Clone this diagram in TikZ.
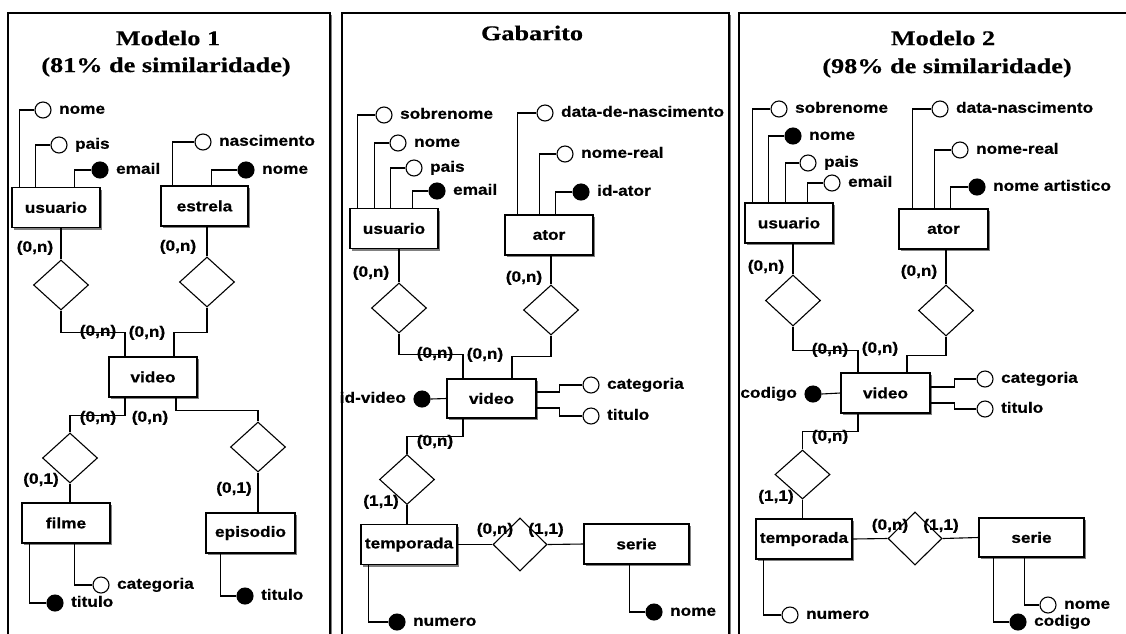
\documentclass[tikz,border=0pt]{standalone}
\usepackage{fontspec}
\newfontfamily\lblfont{Liberation Sans Bold}[FakeStretch=1.15,FakeBold=0.6]
\newfontfamily\ttlfont{Liberation Serif Bold}[FakeStretch=1.25,FakeBold=0.5]
\usetikzlibrary{shapes.geometric,shadows}
\begin{document}
\begin{tikzpicture}[x=1pt,y=-1pt,
  line width=1.1pt,
  every node/.style={font=\lblfont\fontsize{15}{17}\selectfont},
  ent/.style={draw, fill=white, minimum height=40pt, inner sep=0pt,
    general shadow={shadow xshift=2pt,shadow yshift=-2pt,fill=gray}},
  rel/.style={diamond, draw, fill=white, minimum width=55pt, minimum height=50pt, inner sep=0pt},
  att/.style={circle, draw, fill=white, minimum size=16pt, inner sep=0pt},
  key/.style={att, fill=black},
  lbl/.style={inner sep=0pt, text height=10.5pt, text depth=3pt},
  card/.style={lbl},
  la/.style={label={[lbl,label distance=7pt]right:#1}},
  ll/.style={label={[lbl,label distance=7pt]left:#1}},
  ttl/.style={font=\ttlfont\fontsize{21}{24}\selectfont, inner sep=0pt},
]
\clip (0,0) rectangle (1126,633);
\useasboundingbox (0,0) rectangle (1126,633);
\fill[white] (0,0) rectangle (1126,633);
% frames
\fill[gray] (10,15) rectangle (332,650);
\draw[fill=white] (8,13) rectangle (330,650);
\fill[gray] (344,15) rectangle (731,650);
\draw[fill=white] (342,13) rectangle (729,650);
\fill[gray] (741,15) rectangle (1145,650);
\draw[fill=white] (739,13) rectangle (1140,650);

%%%%%%%%%%%%%%%% Panel 1
\node[ttl] (t1a) at (168,38) {Modelo 1};
\node[ttl] (t1b) at (166,67) {(81\% de similaridade)};

\node[ent,minimum width=88pt] (u1) at (56,207.5) {usuario};
\node[att,la=nome] (u1n) at (43,110) {};
\node[att,la=pais] (u1p) at (59,145) {};
\node[key,la=email] (u1e) at (100,170) {};
\draw ([xshift=8pt]u1.north west) |- (u1n.west);
\draw ([xshift=24pt]u1.north west) |- (u1p.west);
\draw ([xshift=63pt]u1.north west) |- (u1e.west);

\node[ent,minimum width=87pt] (e1) at (204.5,206) {estrela};
\node[att,la=nascimento] (e1n) at (203,142) {};
\node[key,la=nome] (e1k) at (246,170) {};
\draw ([xshift=12pt]e1.north west) |- (e1n.west);
\draw ([xshift=51pt]e1.north west) |- (e1k.west);

\node[rel] (r1a) at (61,285) {};
\node[rel] (r1b) at (207,282) {};
\draw (r1a.north) -- (r1a.north |- u1.south);
\draw (r1b.north) -- (r1b.north |- e1.south);
\node[card] (c1a) at (35,248) {(0,n)};
\node[card] (c1b) at (178,247) {(0,n)};

\node[ent,minimum width=88pt] (v1) at (153,377) {video};
\draw (r1a.south) -- ++(0,22) -| ([xshift=-28pt]v1.north);
\draw (r1b.south) -- ++(0,25) -| ([xshift=21pt]v1.north);
\node[card] (c1c) at (98,332) {(0,n)};
\node[card] (c1d) at (147,333) {(0,n)};

\node[rel] (r1c) at (70,458) {};
\node[rel] (r1d) at (258,447) {};
\draw ([xshift=-28pt]v1.south) -- ++(0,18) -| (r1c.north);
\draw ([xshift=23pt]v1.south) -- ++(0,13) -| (r1d.north);
\node[card] (c1e) at (98,418) {(0,n)};
\node[card] (c1f) at (150,418) {(0,n)};

\node[ent,minimum width=88pt] (f1) at (66,523) {filme};
\node[ent,minimum width=89pt] (ep1) at (250.5,533) {episodio};
\draw (r1c.south) -- (r1c.south |- f1.north);
\draw (r1d.south) -- (r1d.south |- ep1.north);
\node[card] (c1g) at (41,480) {(0,1)};
\node[card] (c1h) at (234,489) {(0,1)};
\node[key,la=titulo] (f1t) at (55,603) {};
\node[att,la=categoria] (f1c) at (101,585) {};
\draw ([xshift=8pt]f1.south west) |- (f1t.west);
\draw ([xshift=53pt]f1.south west) |- (f1c.west);
\node[key,la=titulo] (ep1t) at (245,596) {};
\draw ([xshift=15pt]ep1.south west) |- (ep1t.west);

%%%%%%%%%%%%%%%% Panel 2
\node[ttl] (t2) at (532,33) {Gabarito};

\node[ent,minimum width=88pt] (u2) at (394,228.5) {usuario};
\node[att,la=sobrenome] (u2s) at (384,115) {};
\node[att,la=nome] (u2n) at (398,143) {};
\node[att,la=pais] (u2p) at (414,168) {};
\node[key,la=email] (u2e) at (437,191) {};
\draw ([xshift=8pt]u2.north west) |- (u2s.west);
\draw ([xshift=25pt]u2.north west) |- (u2n.west);
\draw ([xshift=41pt]u2.north west) |- (u2p.west);
\draw ([xshift=63pt]u2.north west) |- (u2e.west);

\node[ent,minimum width=88pt] (a2) at (549,235) {ator};
\node[att,la=data-de-nascimento] (a2d) at (545,113) {};
\node[att,la=nome-real] (a2n) at (565,154) {};
\node[key,la=id-ator] (a2k) at (581,192) {};
\draw ([xshift=13pt]a2.north west) |- (a2d.west);
\draw ([xshift=35pt]a2.north west) |- (a2n.west);
\draw ([xshift=51pt]a2.north west) |- (a2k.west);

\node[rel] (r2a) at (399,308) {};
\node[rel] (r2b) at (551,310) {};
\draw (r2a.north) -- (r2a.north |- u2.south);
\draw (r2b.north) -- (r2b.north |- a2.south);
\node[card] (c2a) at (371,273) {(0,n)};
\node[card] (c2b) at (524,278) {(0,n)};

\node[ent,minimum width=89pt,minimum height=39pt] (v2) at (491.5,398.5) {video};
\draw (r2a.south) -- ++(0,21) -| ([xshift=-28.5pt]v2.north);
\draw (r2b.south) -- ++(0,21) -| ([xshift=20.5pt]v2.north);
\node[card] (c2c) at (435,354) {(0,n)};
\node[card] (c2d) at (485,355) {(0,n)};

\node[key,ll=id-video] (v2k) at (422,399) {};
\draw (v2k.east) -- (v2.west);
\node[att,la=categoria] (v2c) at (591,385) {};
\node[att,la=titulo] (v2t) at (591,416) {};
\draw ([yshift=6.5pt]v2.east) -- ++(23,0) |- (v2c.west);
\draw ([yshift=-9.5pt]v2.east) -- ++(23,0) |- (v2t.west);

\node[rel] (r2c) at (407,479.5) {};
\draw ([xshift=-28.5pt]v2.south) -- ++(0,18) -| (r2c.north);
\node[card] (c2e) at (435,442) {(0,n)};
\node[card] (c2f) at (381,502) {(1,1)};

\node[ent,minimum width=96pt] (tp2) at (409,544.5) {temporada};
\draw (r2c.south) -- (r2c.south |- tp2.north);
\node[rel,minimum width=54pt,minimum height=53pt] (r2d) at (520,544.5) {};
\node[ent,minimum width=105pt] (s2) at (636.5,544) {serie};
\draw (tp2.east) -- (r2d.west);
\draw (r2d.east) -- (s2.west);
\node[card] (c2g) at (495,530) {(0,n)};
\node[card] (c2h) at (546,530) {(1,1)};

\node[key,la=numero] (tp2n) at (397,622) {};
\draw ([xshift=8pt]tp2.south west) |- (tp2n.west);
\node[key,la=nome] (s2n) at (654,612) {};
\draw ([xshift=46pt]s2.south west) |- (s2n.west);

%%%%%%%%%%%%%%%% Panel 3
\node[ttl] (t3a) at (943,38) {Modelo 2};
\node[ttl] (t3b) at (947,68) {(98\% de similaridade)};

\node[ent,minimum width=88pt] (u3) at (789,223) {usuario};
\node[att,la=sobrenome] (u3s) at (779,109) {};
\node[key,la=nome] (u3n) at (793,136) {};
\node[att,la=pais] (u3p) at (808,163) {};
\node[att,la=email] (u3e) at (832,183) {};
\draw ([xshift=8pt]u3.north west) |- (u3s.west);
\draw ([xshift=24pt]u3.north west) |- (u3n.west);
\draw ([xshift=41pt]u3.north west) |- (u3p.west);
\draw ([xshift=63pt]u3.north west) |- (u3e.west);

\node[ent,minimum width=89pt] (a3) at (943.5,229) {ator};
\node[att,la=data-nascimento] (a3d) at (940,109) {};
\node[att,la=nome-real] (a3n) at (960,150) {};
\node[key,la=nome artistico] (a3k) at (977,187) {};
\draw ([xshift=14pt]a3.north west) |- (a3d.west);
\draw ([xshift=36pt]a3.north west) |- (a3n.west);
\draw ([xshift=52pt]a3.north west) |- (a3k.west);

\node[rel,minimum height=51pt] (r3a) at (793,300.5) {};
\node[rel,minimum height=51pt] (r3b) at (946,310.5) {};
\draw (r3a.north) -- (r3a.north |- u3.south);
\draw (r3b.north) -- (r3b.north |- a3.south);
\node[card] (c3a) at (766,267) {(0,n)};
\node[card] (c3b) at (919,272) {(0,n)};

\node[ent,minimum width=89pt] (v3) at (885.5,393) {video};
\draw (r3a.south) -- ++(0,24) -| ([xshift=-27.5pt]v3.north);
\draw (r3b.south) -- ++(0,19) -| ([xshift=21.5pt]v3.north);
\node[card] (c3c) at (830,350) {(0,n)};
\node[card] (c3d) at (880,349) {(0,n)};

\node[key,ll=codigo] (v3k) at (813,394) {};
\draw (v3k.east) -- (v3.west);
\node[att,la=categoria] (v3c) at (985,379) {};
\node[att,la=titulo] (v3t) at (985,409) {};
\draw ([yshift=6pt]v3.east) -- ++(24,0) |- (v3c.west);
\draw ([yshift=-10pt]v3.east) -- ++(24,0) |- (v3t.west);

\node[rel,minimum height=49pt] (r3c) at (802.5,474.5) {};
\draw ([xshift=-27.5pt]v3.south) -- ++(0,18) -| (r3c.north);
\node[card] (c3e) at (830,437) {(0,n)};
\node[card] (c3f) at (776,497) {(1,1)};

\node[ent,minimum width=96pt] (tp3) at (804,539) {temporada};
\draw (r3c.south) -- (r3c.south |- tp3.north);
\node[rel,minimum width=54pt,minimum height=53pt] (r3d) at (915,538.5) {};
\node[ent,minimum width=105pt,minimum height=39pt] (s3) at (1031.5,537.5) {serie};
\draw (tp3.east) -- (r3d.west);
\draw (r3d.east) -- (s3.west);
\node[card] (c3g) at (890,526) {(0,n)};
\node[card] (c3h) at (941,526) {(1,1)};

\node[att,la=numero] (tp3n) at (790,615) {};
\draw ([xshift=8pt]tp3.south west) |- (tp3n.west);
\node[att,la=nome] (s3n) at (1048,605) {};
\node[key,la=codigo] (s3k) at (1018,622) {};
\draw ([xshift=46pt]s3.south west) |- (s3n.west);
\draw ([xshift=15pt]s3.south west) |- (s3k.west);
\end{tikzpicture}
\end{document}
